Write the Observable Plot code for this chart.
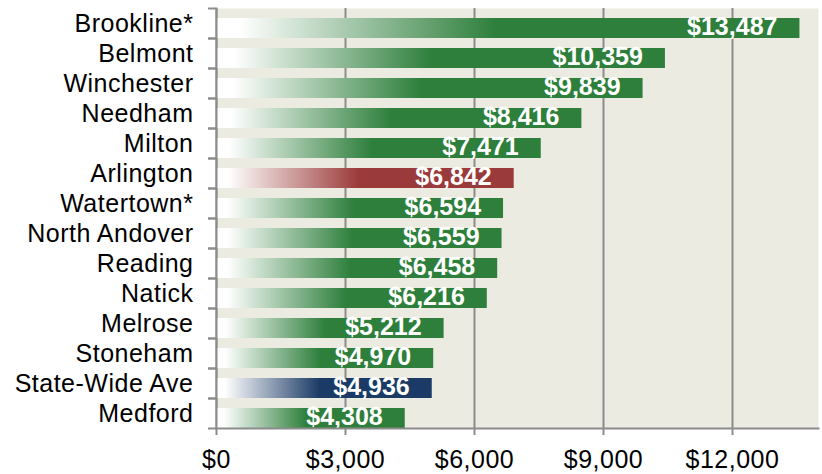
<!DOCTYPE html>
<html>
<head>
<meta charset="utf-8">
<script src="https://cdn.jsdelivr.net/npm/d3@7"></script>
<script src="https://cdn.jsdelivr.net/npm/@observablehq/plot@0.6"></script>
<style>
  body { margin: 0; background: #ffffff; }
  #chart svg text { letter-spacing: 0.5px; }
  #chart svg g.value-labels text { letter-spacing: 0px; }
</style>
</head>
<body>
<div id="chart"></div>
<script>
const towns = ["Brookline*", "Belmont", "Winchester", "Needham", "Milton", "Arlington", "Watertown*",
  "North Andover", "Reading", "Natick", "Melrose", "Stoneham", "State-Wide Ave", "Medford"];
const spending = [13487, 10359, 9839, 8416, 7471, 6842, 6594, 6559, 6458, 6216, 5212, 4970, 4936, 4308];
const xTicks = [0, 3000, 6000, 9000, 12000];

const kindOf = t => t === "Arlington" ? "red" : t === "State-Wide Ave" ? "blue" : "green";
const data = towns.map((t, i) => ({town: t, value: spending[i], kind: kindOf(t)}));
const colors = {green: "#2e7f3c", red: "#9b3a3a", blue: "#1b3b66"};
const fmt = d3.format("$,");
const gray = "#8c8c8c";

const plot = Plot.plot({
  width: 822,
  height: 474,
  marginLeft: 216,
  marginRight: 4,
  marginTop: 8,
  marginBottom: 46,
  style: {fontFamily: "'Liberation Sans', Arial, sans-serif", fontSize: "25px", background: "transparent", color: "#000"},
  x: {domain: [0, 14000], label: null},
  y: {domain: towns, padding: 0, label: null},
  marks: [
    Plot.frame({fill: "#ecebe1", stroke: null}),
    Plot.gridX(xTicks, {stroke: gray, strokeOpacity: 1, strokeWidth: 2}),
    ...["green", "red", "blue"].map(k =>
      Plot.barX(data.filter(d => d.kind === k), {x: "value", y: "town", fill: `url(#grad-${k})`,
        insetTop: 10, insetBottom: 0, insetRight: -3.5})
    ),
    Plot.text(data, {x: "value", y: "town", text: d => fmt(d.value), textAnchor: "end", dx: -19, dy: 3,
      fill: "white", fontWeight: "bold", fontSize: 25, className: "value-labels"}),
    Plot.axisY({tickSize: 0, tickPadding: 23, fill: "#000", fontSize: 25}),
    Plot.axisY({tickSize: 8, fill: "none", stroke: gray, strokeWidth: 2, dy: -15}),
    Plot.axisY({tickSize: 8, fill: "none", stroke: gray, strokeWidth: 2, dy: 15}),
    Plot.frame({anchor: "left", stroke: gray, strokeWidth: 2}),
    Plot.frame({anchor: "bottom", stroke: gray, strokeWidth: 2}),
    Plot.axisX(xTicks, {tickSize: 7, tickPadding: 15, tickFormat: fmt, stroke: gray, strokeWidth: 2, fill: "#000", fontSize: 25})
  ]
});

const defs = d3.select(plot).insert("defs", ":first-child");
for (const [k, c] of Object.entries(colors)) {
  const g = defs.append("linearGradient").attr("id", `grad-${k}`)
    .attr("x1", 0).attr("x2", 1).attr("y1", 0).attr("y2", 0);
  g.append("stop").attr("offset", 0).attr("stop-color", "#ffffff");
  g.append("stop").attr("offset", 0.04).attr("stop-color", "#ffffff");
  g.append("stop").attr("offset", 0.48).attr("stop-color", c);
  g.append("stop").attr("offset", 1).attr("stop-color", c);
}
document.getElementById("chart").appendChild(plot);
</script>
</body>
</html>
